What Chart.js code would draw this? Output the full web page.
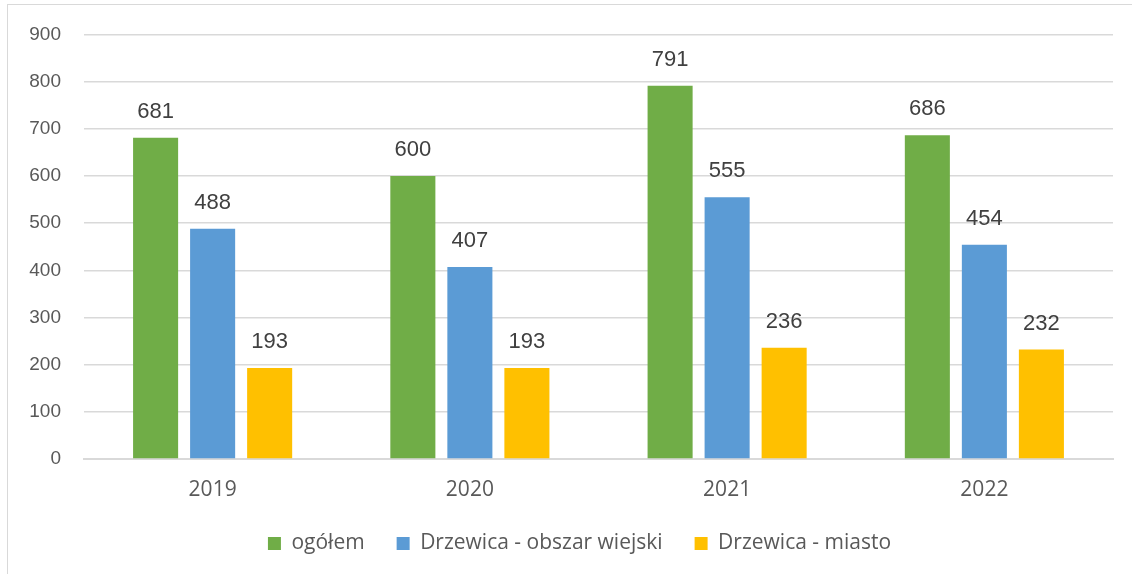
<!DOCTYPE html>
<html>
<head>
<meta charset="utf-8">
<script src="https://cdn.jsdelivr.net/npm/chart.js@4.4.1/dist/chart.umd.min.js"></script>
<style>
    html, body { margin: 0; padding: 0; background: #fff; overflow: hidden; }
    #frame { position: absolute; left: 7px; top: 4px; width: 1200px; height: 700px; border: 1px solid #d9d9d9; }
    #wrap { position: absolute; left: 0; top: 0; width: 1132px; height: 574px; }
</style>
</head>
<body>
<div id="frame"></div>
<div id="wrap"><canvas id="myChart" width="1132" height="574"></canvas></div>
<script>
//----------------------------- Data -----------------------------------
const years = ['2019', '2020', '2021', '2022'];
const ogolem = [681, 600, 791, 686];
const obszarWiejski = [488, 407, 555, 454];
const miasto = [193, 193, 236, 232];
const yTicks = [0, 100, 200, 300, 400, 500, 600, 700, 800, 900];

const axisColor = '#595959';
const labelColor = '#404040';
const gridColor = '#d9d9d9';

// value labels above each bar
const barLabels = {
    id: 'barLabels',
    afterDatasetsDraw(chart) {
        const ctx = chart.ctx;
        ctx.save();
        ctx.font = '22px "Liberation Sans", Arial, sans-serif';
        ctx.fillStyle = labelColor;
        ctx.textAlign = 'center';
        ctx.textBaseline = 'middle';
        chart.data.datasets.forEach((ds, i) => {
            chart.getDatasetMeta(i).data.forEach((bar, j) => {
                ctx.fillText(ds.data[j], bar.x, bar.y - 26);
            });
        });
        ctx.restore();
    }
};

// nudge the legend a bit right, like the original
const legendShift = {
    id: 'legendShift',
    afterLayout(chart) {
        chart.legend.left += 23;
        chart.legend.right += 23;
    }
};

const ctx = document.getElementById('myChart');
const config = {
    type: 'bar',
    data: {
        labels: years,
        datasets: [
            {
                label: 'ogółem',
                data: ogolem,
                backgroundColor: '#70ad47'
            },
            {
                label: 'Drzewica - obszar wiejski',
                data: obszarWiejski,
                backgroundColor: '#5b9bd5'
            },
            {
                label: 'Drzewica - miasto',
                data: miasto,
                backgroundColor: '#ffc000'
            }
        ]
    },
    options: {
        responsive: false,
        animation: false,
        categoryPercentage: 0.665,
        barPercentage: 0.79,
        layout: {
            padding: { left: 0, right: 19, top: 34, bottom: 10 }
        },
        plugins: {
            legend: {
                position: 'bottom',
                labels: {
                    boxWidth: 13,
                    boxHeight: 13,
                    padding: 32,
                    color: axisColor,
                    font: { family: '"Open Sans", sans-serif', size: 21 }
                }
            },
            tooltip: { enabled: false }
        },
        scales: {
            x: {
                grid: { display: false },
                border: { display: true, color: gridColor, width: 2 },
                ticks: {
                    color: axisColor,
                    padding: 10,
                    font: { family: '"Open Sans", sans-serif', size: 21 }
                },
                afterFit: s => { s.height = 42; }
            },
            y: {
                min: 0,
                max: 900,
                afterBuildTicks: s => { s.ticks = yTicks.map(v => ({ value: v })); },
                grid: { color: gridColor, lineWidth: 1.5, drawTicks: false },
                border: { display: false },
                ticks: {
                    color: axisColor,
                    padding: 23,
                    font: { family: '"Liberation Sans", Arial, sans-serif', size: 19 }
                },
                afterFit: s => { s.width = 84; }
            }
        }
    },
    plugins: [barLabels, legendShift]
};
window.myChartInstance = new Chart(ctx, config);
</script>
</body>
</html>
